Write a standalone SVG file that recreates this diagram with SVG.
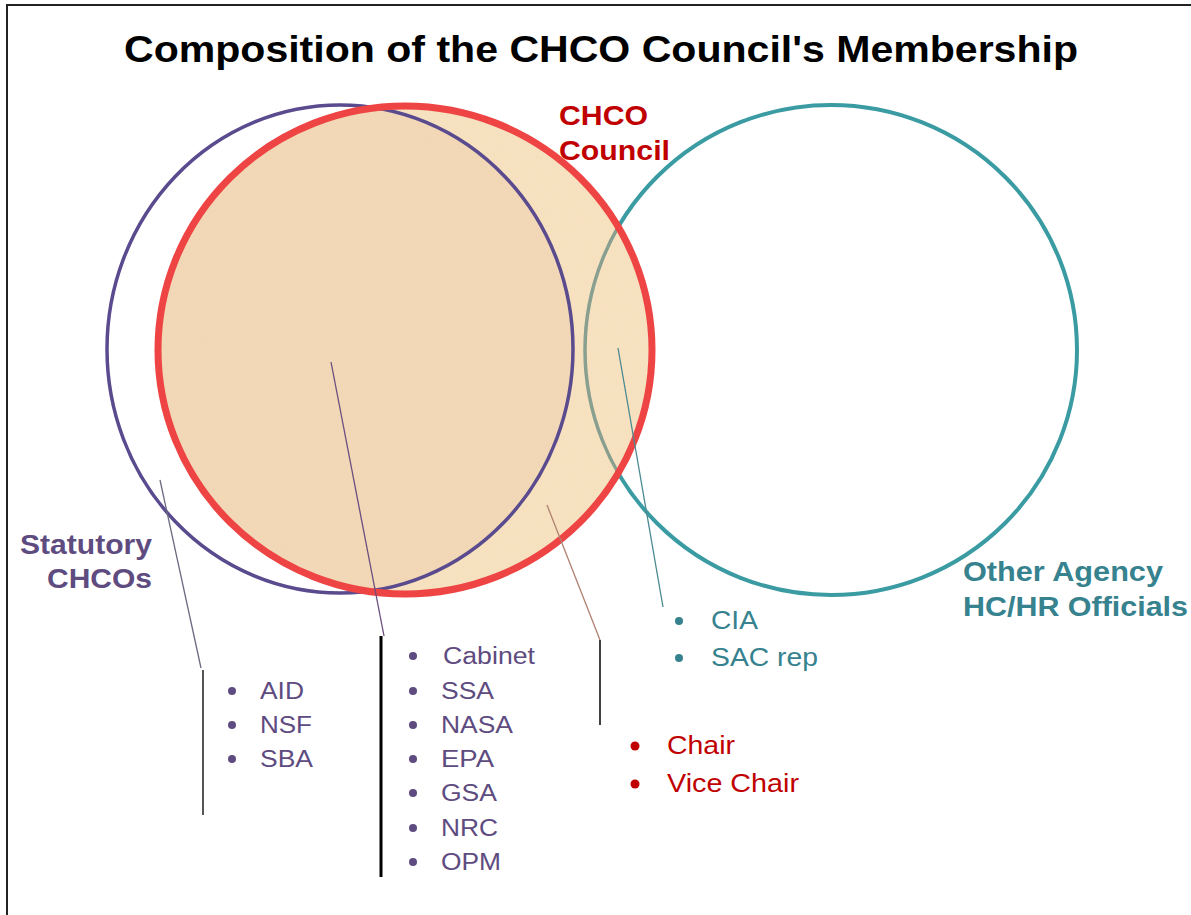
<svg xmlns="http://www.w3.org/2000/svg" width="1191" height="915" viewBox="0 0 1191 915">
<style>
.title{font-family:"Liberation Sans",Arial,sans-serif;font-weight:bold;font-size:36px;fill:#000}
.lbl{font-family:"Liberation Sans",Arial,sans-serif;font-weight:bold;font-size:27px}
.item{font-family:"Liberation Sans",Arial,sans-serif;font-size:23px}
.item2{font-family:"Liberation Sans",Arial,sans-serif;font-size:26px}
.pur{fill:#5e4b80}
.red{fill:#c00000}
.teal{fill:#36828e}
.conn{fill:none;stroke-width:1.3}
</style>
<defs>
<clipPath id="clipRed"><ellipse cx="405" cy="350" rx="247" ry="244"/></clipPath>
<filter id="noise" x="0" y="0" width="100%" height="100%">
<feTurbulence type="fractalNoise" baseFrequency="0.9" numOctaves="2" seed="3"/>
<feColorMatrix type="matrix" values="0 0 0 0 0.85  0 0 0 0 0.6  0 0 0 0 0.5  0 0 0 1.2 -0.55"/>
</filter>
</defs>
<rect x="0" y="0" width="1191" height="915" fill="#fff"/>
<path d="M7,915 V5 H1191" fill="none" stroke="#222" stroke-width="2"/>
<text class="title" x="124" y="62" textLength="954" lengthAdjust="spacingAndGlyphs">Composition of the CHCO Council's Membership</text>

<g id="other-agency">
<ellipse cx="831" cy="350" rx="246" ry="245" fill="none" stroke="#3a9ba2" stroke-width="4"/>
</g>
<g id="chco-council-fill">
<ellipse cx="405" cy="350" rx="247" ry="244" fill="#f7e2c0"/>
<ellipse cx="831" cy="350" rx="246" ry="245" fill="none" stroke="#869e8e" stroke-width="3.5" clip-path="url(#clipRed)"/>
<rect x="155" y="103" width="500" height="495" filter="url(#noise)" clip-path="url(#clipRed)" opacity="0.35"/>
</g>
<g id="statutory">
<ellipse cx="340" cy="349" rx="233" ry="244" fill="#eccaa8" fill-opacity="0.4" clip-path="url(#clipRed)" stroke="none"/>
<ellipse cx="340" cy="349" rx="233" ry="244" fill="none" stroke="#5a4a8e" stroke-width="3.5"/>
</g>
<g id="chco-council">
<ellipse cx="405" cy="350" rx="247" ry="244" fill="none" stroke="#ee4444" stroke-width="7"/>
</g>

<g id="connectors">
<polyline class="conn" points="160,480 201,668" stroke="#6a6a80"/>
<line x1="203" y1="670" x2="203" y2="815" stroke="#555" stroke-width="2"/>
<polyline class="conn" points="331,362 384,636" stroke="#6a4e80"/>
<line x1="381" y1="636" x2="381" y2="877" stroke="#000" stroke-width="3"/>
<polyline class="conn" points="547,505 600,640" stroke="#b08070"/>
<line x1="600" y1="640" x2="600" y2="725" stroke="#000" stroke-width="1.5"/>
<polyline class="conn" points="618,348 663,607" stroke="#4a8a90"/>
</g>

<g id="label-chco">
<text class="lbl red" x="559" y="125" textLength="89" lengthAdjust="spacingAndGlyphs">CHCO</text>
<text class="lbl red" x="559" y="160" textLength="111" lengthAdjust="spacingAndGlyphs">Council</text>
</g>
<g id="label-statutory">
<text class="lbl pur" x="20" y="554" textLength="132" lengthAdjust="spacingAndGlyphs">Statutory</text>
<text class="lbl pur" x="47" y="588" textLength="105" lengthAdjust="spacingAndGlyphs">CHCOs</text>
</g>
<g id="label-other">
<text class="lbl teal" x="963" y="581" textLength="200" lengthAdjust="spacingAndGlyphs">Other Agency</text>
<text class="lbl teal" x="963" y="616" textLength="225" lengthAdjust="spacingAndGlyphs">HC/HR Officials</text>
</g>

<g id="list-statutory" class="pur">
<circle cx="232" cy="691" r="4"/><text class="item pur" x="260" y="699" textLength="44" lengthAdjust="spacingAndGlyphs">AID</text>
<circle cx="232" cy="725" r="4"/><text class="item pur" x="260" y="733" textLength="52" lengthAdjust="spacingAndGlyphs">NSF</text>
<circle cx="232" cy="759" r="4"/><text class="item pur" x="260" y="767" textLength="53" lengthAdjust="spacingAndGlyphs">SBA</text>
</g>
<g id="list-cabinet" class="pur">
<circle cx="413" cy="656" r="4"/><text class="item pur" x="443" y="664" textLength="92" lengthAdjust="spacingAndGlyphs">Cabinet</text>
<circle cx="413" cy="691" r="4"/><text class="item pur" x="441" y="699" textLength="53" lengthAdjust="spacingAndGlyphs">SSA</text>
<circle cx="413" cy="725" r="4"/><text class="item pur" x="441" y="733" textLength="72" lengthAdjust="spacingAndGlyphs">NASA</text>
<circle cx="413" cy="759" r="4"/><text class="item pur" x="441" y="767" textLength="53" lengthAdjust="spacingAndGlyphs">EPA</text>
<circle cx="413" cy="793" r="4"/><text class="item pur" x="441" y="801" textLength="56" lengthAdjust="spacingAndGlyphs">GSA</text>
<circle cx="413" cy="828" r="4"/><text class="item pur" x="441" y="836" textLength="57" lengthAdjust="spacingAndGlyphs">NRC</text>
<circle cx="413" cy="862" r="4"/><text class="item pur" x="441" y="870" textLength="60" lengthAdjust="spacingAndGlyphs">OPM</text>
</g>
<g id="list-other" class="teal">
<circle cx="679" cy="621" r="4"/><text class="item2 teal" x="711" y="629" textLength="47" lengthAdjust="spacingAndGlyphs">CIA</text>
<circle cx="679" cy="658" r="4"/><text class="item2 teal" x="711" y="666" textLength="107" lengthAdjust="spacingAndGlyphs">SAC rep</text>
</g>
<g id="list-council" class="red">
<circle cx="635" cy="746" r="4.5"/><text class="item2 red" x="667" y="754" textLength="68" lengthAdjust="spacingAndGlyphs">Chair</text>
<circle cx="635" cy="784" r="4.5"/><text class="item2 red" x="667" y="792" textLength="132" lengthAdjust="spacingAndGlyphs">Vice Chair</text>
</g>
</svg>
